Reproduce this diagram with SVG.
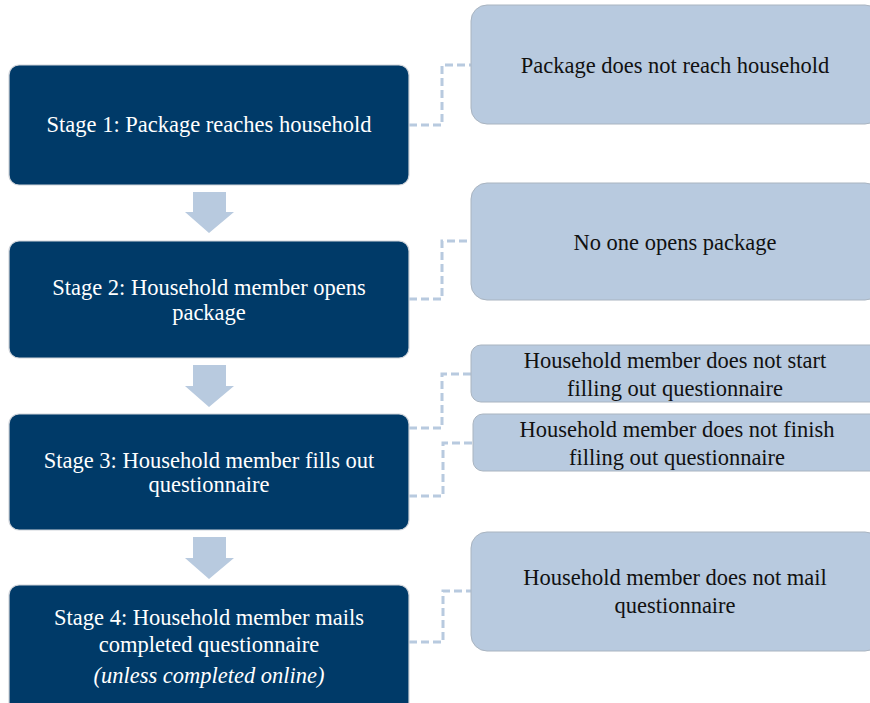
<svg xmlns="http://www.w3.org/2000/svg" width="870" height="703" viewBox="0 0 870 703">
<style>
.stage{fill:#003a68;stroke:#d0d4da;stroke-width:1.2}
.fail{fill:#b8cadf;stroke:#a9b4c0;stroke-width:1}
.st{font-family:'Liberation Serif','Times New Roman',serif;font-size:22.5px;fill:#ffffff;text-anchor:middle}
.ft{font-family:'Liberation Serif','Times New Roman',serif;font-size:22.5px;fill:#111111;text-anchor:middle}
.conn{fill:none;stroke:#b8cadf;stroke-width:3;stroke-dasharray:8,4}
.arr{fill:#b8cadf}
</style>
<rect width="870" height="703" fill="#ffffff"/>
<g id="connectors">
<polyline class="conn" points="409,125 442,125 442,65 471,65"/>
<polyline class="conn" points="409,299 442,299 442,241 471,241"/>
<polyline class="conn" points="409,428 442,428 442,374 471,374"/>
<polyline class="conn" points="409,496 443,496 443,443 473,443"/>
<polyline class="conn" points="409,642 443,642 443,591 472,591"/>
<polygon class="arr" points="193,192 226,192 226,212 234,212 209,233 185,212 193,212"/>
<polygon class="arr" points="193,365 226,365 226,386 234,386 209,407 185,386 193,386"/>
<polygon class="arr" points="193,537 226,537 226,558 234,558 209,579 185,558 193,558"/>
</g>
<g id="stage1">
<rect class="stage" x="9" y="65" width="400" height="120" rx="10"/>
<text class="st" x="209" y="132">Stage 1: Package reaches household</text>
</g>
<g id="stage2">
<rect class="stage" x="9" y="241" width="400" height="117" rx="10"/>
<text class="st" x="209" y="295">Stage 2: Household member opens</text>
<text class="st" x="209" y="320">package</text>
</g>
<g id="stage3">
<rect class="stage" x="9" y="414" width="400" height="116" rx="10"/>
<text class="st" x="209" y="468">Stage 3: Household member fills out</text>
<text class="st" x="209" y="492">questionnaire</text>
</g>
<g id="stage4">
<rect class="stage" x="9" y="585" width="400" height="130" rx="10"/>
<text class="st" x="209" y="625">Stage 4: Household member mails</text>
<text class="st" x="209" y="652">completed questionnaire</text>
<text class="st" x="209" y="683" font-style="italic">(unless completed online)</text>
</g>
<g id="fail1">
<rect class="fail" x="471" y="5" width="410" height="119" rx="16"/>
<text class="ft" x="675" y="73">Package does not reach household</text>
</g>
<g id="fail2">
<rect class="fail" x="471" y="183" width="410" height="117" rx="16"/>
<text class="ft" x="675" y="250">No one opens package</text>
</g>
<g id="fail3a">
<rect class="fail" x="471" y="345" width="410" height="57" rx="10"/>
<text class="ft" x="675" y="368">Household member does not start</text>
<text class="ft" x="675" y="396">filling out questionnaire</text>
</g>
<g id="fail3b">
<rect class="fail" x="473" y="414" width="408" height="57" rx="10"/>
<text class="ft" x="677" y="437">Household member does not finish</text>
<text class="ft" x="677" y="465">filling out questionnaire</text>
</g>
<g id="fail4">
<rect class="fail" x="471" y="532" width="410" height="119" rx="16"/>
<text class="ft" x="675" y="585">Household member does not mail</text>
<text class="ft" x="675" y="613">questionnaire</text>
</g>
</svg>
